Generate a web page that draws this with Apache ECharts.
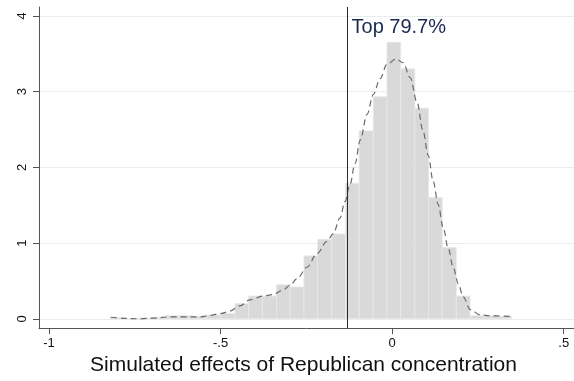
<!DOCTYPE html>
<html>
<head>
<meta charset="utf-8">
<script src="https://cdn.jsdelivr.net/npm/echarts@6/dist/echarts.min.js"></script>
<style>
html,body{margin:0;padding:0;background:#fff;}
#chart{width:574px;height:381px;}
</style>
</head>
<body>
<div id="chart"></div>
<script>
// Histogram bins (edges) and density heights
const binEdges = [-0.821, -0.781, -0.740, -0.700, -0.660, -0.620, -0.579, -0.539, -0.499, -0.458,
  -0.418, -0.378, -0.337, -0.297, -0.257, -0.217, -0.176, -0.136, -0.096, -0.055,
  -0.015, 0.025, 0.066, 0.106, 0.146, 0.187, 0.227, 0.267, 0.307, 0.348];
const binDensity = [0.02, 0.00, 0.01, 0.02, 0.04, 0.04, 0.03, 0.05, 0.07, 0.20,
  0.30, 0.30, 0.45, 0.42, 0.83, 1.05, 1.12, 1.79, 2.48, 2.93,
  3.65, 3.30, 2.78, 1.60, 0.94, 0.30, 0.04, 0.04, 0.03];
// Kernel density curve
const kdeX = [-0.820, -0.779, -0.735, -0.692, -0.648, -0.604, -0.560, -0.537, -0.499, -0.473,
  -0.444, -0.414, -0.376, -0.347, -0.318, -0.298, -0.277, -0.248, -0.219, -0.190,
  -0.172, -0.152, -0.137, -0.123, -0.108, -0.093, -0.073, -0.055, -0.035, -0.015,
  0.012, 0.032, 0.053, 0.073, 0.090, 0.105, 0.120, 0.134, 0.149, 0.163,
  0.178, 0.193, 0.207, 0.228, 0.257, 0.286, 0.347];
const kdeY = [0.02, 0.005, 0.0, 0.01, 0.025, 0.025, 0.025, 0.04, 0.07, 0.10,
  0.17, 0.25, 0.30, 0.32, 0.38, 0.44, 0.53, 0.68, 0.86, 1.02,
  1.12, 1.33, 1.55, 1.77, 2.05, 2.36, 2.70, 2.96, 3.17, 3.36,
  3.43, 3.38, 3.18, 2.85, 2.48, 2.16, 1.81, 1.51, 1.20, 0.94,
  0.68, 0.46, 0.29, 0.12, 0.05, 0.04, 0.03];
// Threshold line and annotation
const cutoff = -0.13;
const cutoffLabel = 'Top 79.7%';
// Axis ticks
const xTicks = [-1, -0.5, 0, 0.5];
const xTickLabels = ['-1', '-.5', '0', '.5'];
const yTicks = [0, 1, 2, 3, 4];
const yTickLabels = ['0', '1', '2', '3', '4'];
const xTitle = 'Simulated effects of Republican concentration';

const barData = binDensity.map((d, i) => [binEdges[i], binEdges[i + 1], d]);
const kdeData = kdeX.map((x, i) => [x, kdeY[i]]);

const FONT = '"Liberation Sans", Arial, Helvetica, sans-serif';
const chart = echarts.init(document.getElementById('chart'), null, {renderer: 'canvas'});
chart.setOption({
  animation: false,
  backgroundColor: '#ffffff',
  grid: {left: 39, right: 0, top: 7, bottom: 49, containLabel: false},
  xAxis: {
    type: 'value', min: -1.029, max: 0.53,
    axisLine: {show: true, onZero: false, lineStyle: {color: '#555', width: 1}},
    axisTick: {show: true, length: 6, lineStyle: {color: '#555'}, customValues: xTicks},
    axisLabel: {show: true, margin: 9, fontFamily: FONT, fontSize: 13, color: '#111',
      customValues: xTicks,
      formatter: v => { const i = xTicks.findIndex(t => Math.abs(t - v) < 1e-9); return i >= 0 ? xTickLabels[i] : ''; }},
    splitLine: {show: false},
    name: xTitle, nameLocation: 'middle', nameGap: 23,
    nameTextStyle: {fontFamily: FONT, fontSize: 21, color: '#111', padding: [0, 6, 0, 0], verticalAlign: 'top'}
  },
  yAxis: {
    type: 'value', min: -0.123, max: 4.116,
    axisLine: {show: true, onZero: false, lineStyle: {color: '#555', width: 1}},
    axisTick: {show: true, length: 6, lineStyle: {color: '#555'}, customValues: yTicks},
    axisLabel: {show: true, rotate: 90, margin: 10, fontFamily: FONT, fontSize: 13, color: '#111',
      customValues: yTicks,
      formatter: v => { const i = yTicks.findIndex(t => Math.abs(t - v) < 1e-9); return i >= 0 ? yTickLabels[i] : ''; }},
    splitLine: {show: true, lineStyle: {color: '#e6eeee', width: 1}}
  },
  series: [
    {
      type: 'custom',
      data: barData,
      encode: {x: [0, 1], y: 2},
      renderItem: function (params, api) {
        const p0 = api.coord([api.value(0), api.value(2)]);
        const p1 = api.coord([api.value(1), 0]);
        return {
          type: 'rect',
          shape: {x: p0[0], y: p0[1], width: p1[0] - p0[0], height: p1[1] - p0[1]},
          style: {fill: '#d9d9d9', stroke: '#e8e8e8', lineWidth: 0.8}
        };
      },
      z: 2
    },
    {
      type: 'line',
      data: kdeData,
      showSymbol: false,
      smooth: 0.35,
      smoothMonotone: 'x',
      lineStyle: {color: '#6a6a6a', width: 1.2, type: [6, 4]},
      z: 3,
      markLine: {
        silent: true, symbol: 'none', animation: false,
        label: {show: false},
        lineStyle: {color: '#1a2a4f', width: 1, type: 'solid'},
        data: [{xAxis: cutoff}]
      }
    }
  ]
});
const pt = chart.convertToPixel({gridIndex: 0}, [cutoff, 3.84]);
chart.setOption({
  graphic: [{
    type: 'text', x: pt[0] + 4, y: pt[1], z: 10,
    style: {text: cutoffLabel, fontFamily: FONT, fontSize: 20, fill: '#1a2a4f', textVerticalAlign: 'middle'}
  }]
});
</script>
</body>
</html>
